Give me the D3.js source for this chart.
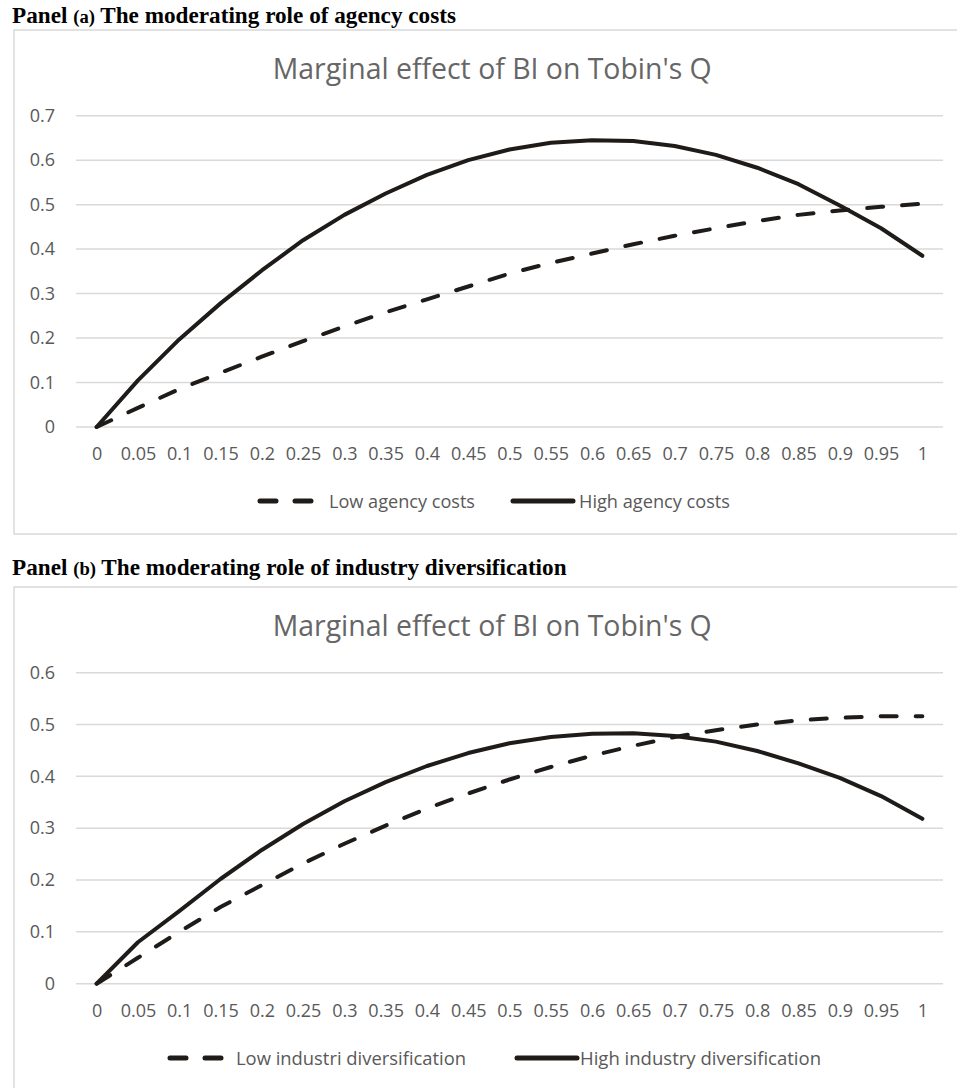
<!DOCTYPE html>
<html><head><meta charset="utf-8">
<script src="https://cdn.jsdelivr.net/npm/d3@7/dist/d3.min.js"></script>
<style>html,body{margin:0;padding:0;background:#fff;}svg{display:block;}</style>
</head><body>
<svg id="c" width="957" height="1088"></svg>
<script>
const categories = ["0","0.05","0.1","0.15","0.2","0.25","0.3","0.35","0.4","0.45","0.5","0.55","0.6","0.65","0.7","0.75","0.8","0.85","0.9","0.95","1"];
const lowAgency  = [0,0.043,0.085,0.122,0.158,0.193,0.226,0.258,0.287,0.316,0.345,0.369,0.390,0.411,0.430,0.447,0.463,0.477,0.487,0.495,0.502];
const highAgency = [0,0.105,0.197,0.278,0.352,0.420,0.477,0.525,0.567,0.600,0.624,0.639,0.645,0.643,0.632,0.612,0.583,0.546,0.498,0.447,0.385];
const lowDiv  = [0,0.050,0.100,0.148,0.190,0.232,0.270,0.305,0.338,0.367,0.394,0.418,0.440,0.459,0.476,0.489,0.500,0.508,0.513,0.516,0.516];
const highDiv = [0,0.080,0.140,0.202,0.258,0.308,0.352,0.389,0.420,0.445,0.464,0.476,0.482,0.483,0.478,0.467,0.449,0.425,0.397,0.362,0.318];
const yTicksA = [0,0.1,0.2,0.3,0.4,0.5,0.6,0.7];
const yTicksB = [0,0.1,0.2,0.3,0.4,0.5,0.6];

const svg = d3.select("#c");
const gray = "#595959", grid = "#d9d9d9", ink = "#1f1b19";

function panel(cfg){
  const g = svg.append("g");
  // outer chart box
  g.append("rect").attr("x",14).attr("y",cfg.boxTop).attr("width",970).attr("height",cfg.boxH)
    .attr("fill","none").attr("stroke",grid).attr("stroke-width",1.5);
  // panel heading
  const pt = g.append("text").attr("x",12).attr("y",cfg.headY)
    .attr("font-family","'Liberation Serif', 'Times New Roman', serif").attr("font-weight","bold")
    .attr("font-size",23.2).attr("fill","#000");
  pt.append("tspan").text("Panel ");
  pt.append("tspan").attr("font-size",18.6).text(cfg.tag);
  pt.append("tspan").text(" " + cfg.heading);
  // chart title
  g.append("text").attr("x",272.7).attr("y",cfg.titleY)
    .attr("font-family","'Open Sans', sans-serif").attr("font-size",30).attr("fill","#666")
    .attr("textLength",439).attr("lengthAdjust","spacingAndGlyphs")
    .text("Marginal effect of BI on Tobin's Q");

  const x = d3.scalePoint().domain(categories).range([76,943]).padding(0.5);
  const y = d3.scaleLinear().domain([0,cfg.yMax]).range([cfg.y0,cfg.yTop]);

  // gridlines
  g.append("g").selectAll("line").data(cfg.yTicks).join("line")
    .attr("x1",76).attr("x2",943).attr("y1",d=>y(d)).attr("y2",d=>y(d))
    .attr("stroke",grid).attr("stroke-width",1.5);
  // y labels
  const ya = g.append("g").attr("transform","translate(55,0)")
    .call(d3.axisLeft(y).tickValues(cfg.yTicks).tickSize(0).tickPadding(0).tickFormat(d=>d3.format("~g")(+d.toFixed(2))));
  ya.select(".domain").remove();
  ya.selectAll("text").attr("font-family","'Open Sans', sans-serif").attr("font-size",18).attr("fill",gray);
  // x labels
  const xa = g.append("g").attr("transform",`translate(0,${cfg.xLabY})`)
    .call(d3.axisBottom(x).tickSize(0).tickPadding(0));
  xa.select(".domain").remove();
  xa.selectAll("text").attr("font-family","'Open Sans', sans-serif").attr("font-size",18).attr("fill",gray).attr("dy",0).attr("y",0);

  const line = d3.line().x((d,i)=>x(categories[i])).y(d=>y(d));
  g.append("path").datum(cfg.low).attr("d",line).attr("fill","none").attr("stroke",ink)
    .attr("stroke-width",4).attr("stroke-dasharray","16,19").attr("stroke-linecap","round").attr("stroke-linejoin","round");
  g.append("path").datum(cfg.high).attr("d",line).attr("fill","none").attr("stroke",ink)
    .attr("stroke-width",4).attr("stroke-linecap","round").attr("stroke-linejoin","round");

  // legend
  const L = cfg.leg;
  g.append("line").attr("x1",L.d0+2).attr("x2",L.d0+56).attr("y1",L.y).attr("y2",L.y)
    .attr("stroke",ink).attr("stroke-width",5).attr("stroke-dasharray","16,19").attr("stroke-linecap","round");
  g.append("text").attr("x",L.t0).attr("y",L.y+6.5).attr("font-family","'Open Sans', sans-serif").attr("font-size",18)
    .attr("fill",gray).attr("textLength",L.t0w).attr("lengthAdjust","spacingAndGlyphs").text(cfg.lowName);
  g.append("line").attr("x1",L.s0+2).attr("x2",L.s0+62).attr("y1",L.y).attr("y2",L.y)
    .attr("stroke",ink).attr("stroke-width",5).attr("stroke-linecap","round");
  g.append("text").attr("x",L.t1).attr("y",L.y+6.5).attr("font-family","'Open Sans', sans-serif").attr("font-size",18)
    .attr("fill",gray).attr("textLength",L.t1w).attr("lengthAdjust","spacingAndGlyphs").text(cfg.highName);
}

panel({boxTop:30, boxH:504, headY:22.7, tag:"(a)", heading:"The moderating role of agency costs",
  titleY:79, yMax:0.7, y0:427, yTop:115.7, yTicks:yTicksA, xLabY:460,
  low:lowAgency, high:highAgency, lowName:"Low agency costs", highName:"High agency costs",
  leg:{y:501, d0:258, t0:329, t0w:146, s0:511, t1:579, t1w:151}});

panel({boxTop:587, boxH:560, headY:575, tag:"(b)", heading:"The moderating role of industry diversification",
  titleY:635.7, yMax:0.6, y0:983.7, yTop:672.7, yTicks:yTicksB, xLabY:1017,
  low:lowDiv, high:highDiv, lowName:"Low industri diversification", highName:"High industry diversification",
  leg:{y:1058, d0:168, t0:236, t0w:230, s0:515, t1:580, t1w:241}});
</script>
</body></html>
